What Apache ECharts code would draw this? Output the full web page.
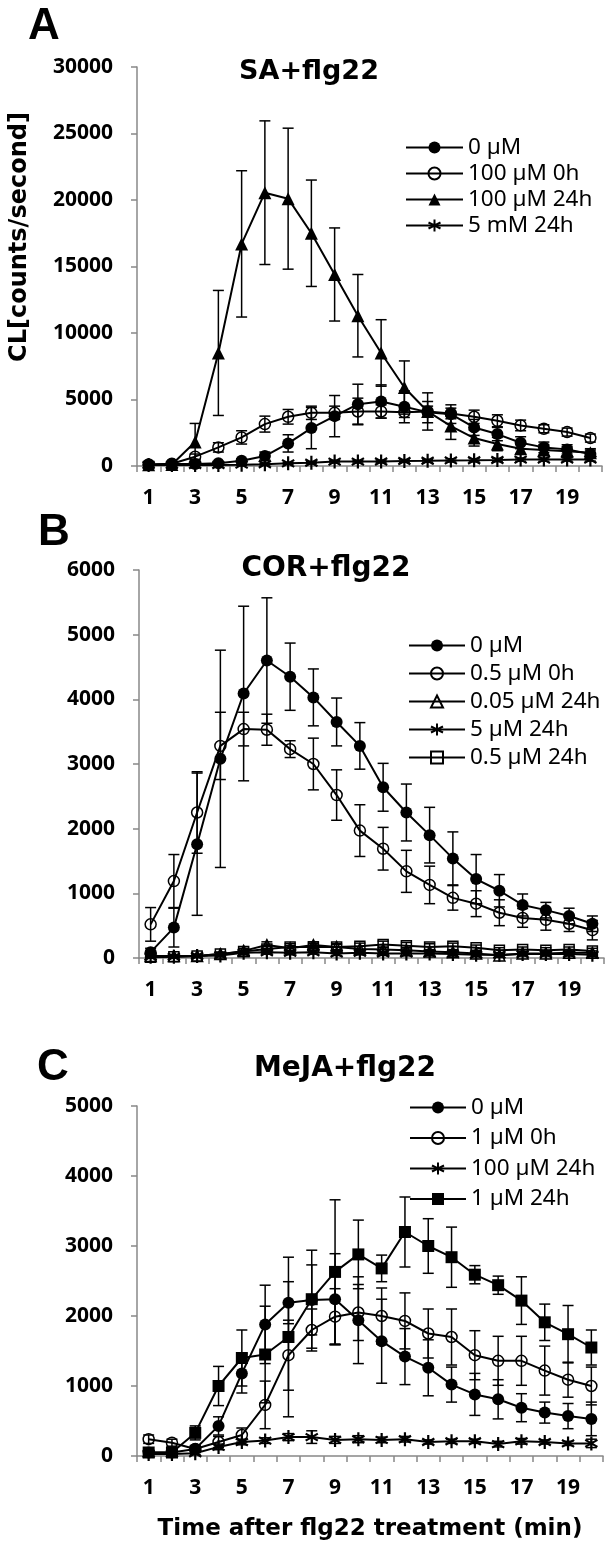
<!DOCTYPE html>
<html><head><meta charset="utf-8">
<script src="https://cdn.jsdelivr.net/npm/echarts@6/dist/echarts.min.js"></script>
<style>html,body{margin:0;padding:0;background:#fff}#c{width:610px;height:1550px}</style>
</head><body><div id="c"></div>
<script>
// ---------- data ----------
const minutes = ['1','2','3','4','5','6','7','8','9','10','11','12','13','14','15','16','17','18','19','20'];

// Panel A: SA+flg22
const aCtrl     = [100,150,150,200,400,750,1700,2850,3750,4650,4850,4450,4050,3900,2900,2400,1750,1400,1250,900];
const aCtrlErr  = [50,50,60,80,150,300,650,1550,1550,1500,1250,1200,800,700,600,500,450,400,350,300];
const a100_0h   = [120,170,700,1400,2150,3150,3700,4000,4000,4100,4100,4050,4100,3950,3700,3400,3050,2800,2550,2100];
const a100_0hErr= [50,60,200,350,500,600,550,500,500,1000,500,400,400,400,500,450,400,300,300,300];
const a100_24h  = [100,120,1800,8500,16700,20550,20100,17500,14400,11300,8500,5900,4100,3000,2100,1650,1300,1200,1100,1000];
const a100_24hErr=[50,60,1400,4700,5500,5400,5300,4000,3500,3100,2500,2000,1400,1000,600,500,400,400,350,300];
const a5mM      = [80,80,80,80,100,130,200,250,330,330,340,380,390,420,430,450,480,480,490,490];
const a5mMErr   = [30,30,30,40,50,60,80,80,100,100,100,100,100,120,120,120,120,120,120,120];

// Panel B: COR+flg22
const bCtrl     = [90,470,1760,3080,4090,4600,4350,4030,3650,3280,2640,2250,1900,1540,1220,1040,820,740,650,530];
const bCtrlErr  = [60,300,1100,1680,1350,970,520,440,370,360,370,440,430,410,380,250,170,120,120,120];
const b05_0h    = [520,1190,2250,3280,3540,3530,3230,3000,2520,1970,1690,1340,1130,930,840,700,620,590,530,430];
const b05_0hErr = [260,410,630,520,260,240,130,400,390,400,330,325,290,190,200,200,145,160,120,150];
const b005_24h  = [30,30,30,60,110,200,150,200,170,140,130,120,100,90,70,40,70,70,80,80];
const b005_24hErr=[20,20,20,30,40,50,40,50,40,40,40,40,30,30,30,30,30,30,30,30];
const b5_24h    = [20,20,30,40,80,90,80,90,70,80,70,70,70,60,50,50,60,60,60,50];
const b5_24hErr = [20,20,20,20,30,30,30,30,30,30,30,30,30,30,30,30,30,30,30,30];
const b05_24h   = [10,20,30,60,100,140,170,170,170,180,210,190,170,180,160,120,130,120,130,110];
const b05_24hErr= [20,20,20,30,40,40,50,50,50,50,50,50,50,50,40,40,40,40,40,40];

// Panel C: MeJA+flg22
const cCtrl     = [50,50,100,430,1180,1880,2190,2230,2240,1940,1640,1420,1260,1020,880,810,690,620,570,530];
const cCtrlErr  = [30,30,50,130,280,560,300,500,650,620,600,400,400,250,300,280,200,150,180,240];
const c1_0h     = [240,190,100,200,300,730,1440,1800,1990,2050,2000,1930,1750,1700,1440,1360,1360,1220,1090,1000];
const c1_0hErr  = [60,50,40,80,100,340,500,300,400,400,400,400,350,400,350,350,350,350,250,270];
const c100_24h  = [30,30,40,130,200,220,270,270,230,240,230,240,200,210,210,170,210,200,180,180];
const c100_24hErr=[20,20,20,40,40,40,50,90,50,50,40,40,30,30,30,40,40,30,30,60];
const c1_24h    = [50,50,330,1000,1400,1450,1700,2240,2630,2880,2680,3200,3000,2840,2590,2440,2220,1910,1740,1550];
const c1_24hErr = [30,30,100,280,400,690,1140,700,1030,490,190,500,390,430,130,130,340,260,410,250];

const yTicksA = {min:0, max:30000, interval:5000};
const yTicksB = {min:0, max:6000, interval:1000};
const yTicksC = {min:0, max:5000, interval:1000};

// ---------- styles ----------
const ASTER = 'path://M0,-1L0,1M-0.87,-0.5L0.87,0.5M-0.87,0.5L0.87,-0.5';
const SYM = {
  fcircle: {symbol:'circle', size:12, item:{color:'#000'}},
  ocircle: {symbol:'circle', size:11, item:{color:'rgba(0,0,0,0)', borderColor:'#000', borderWidth:1.5}},
  ftri:    {symbol:'triangle', size:13, item:{color:'#000'}},
  otri:    {symbol:'triangle', size:11, item:{color:'rgba(0,0,0,0)', borderColor:'#000', borderWidth:1.5}},
  aster:   {symbol:ASTER, size:14, item:{color:'#000', borderColor:'#000', borderWidth:2.2}},
  osq:     {symbol:'rect', size:10, item:{color:'rgba(0,0,0,0)', borderColor:'#000', borderWidth:1.5}},
  fsq:     {symbol:'rect', size:12, item:{color:'#000'}}
};

function lineSeries(id, label, g, vals, sk) {
  const s = SYM[sk];
  return {type:'line', name:id+'|'+label, xAxisIndex:g, yAxisIndex:g, data:vals,
    symbol:s.symbol, symbolSize:s.size, symbolKeepAspect:true, showAllSymbol:true,
    lineStyle:{color:'#000', width:2}, itemStyle:s.item, z:4, animation:false};
}
function errRender(params, api) {
  const x = api.value(0);
  const lo = api.coord([x, api.value(1)]);
  const hi = api.coord([x, api.value(2)]);
  const w = 5.5, st = {stroke:'#000', lineWidth:1.5};
  return {type:'group', children:[
    {type:'line', shape:{x1:hi[0],y1:hi[1],x2:lo[0],y2:lo[1]}, style:st},
    {type:'line', shape:{x1:hi[0]-w,y1:hi[1],x2:hi[0]+w,y2:hi[1]}, style:st},
    {type:'line', shape:{x1:lo[0]-w,y1:lo[1],x2:lo[0]+w,y2:lo[1]}, style:st}
  ]};
}
function errSeries(g, vals, errs) {
  return {type:'custom', xAxisIndex:g, yAxisIndex:g, renderItem:errRender, z:3, animation:false,
    encode:{x:0, y:[1,2]}, silent:true,
    data: vals.map((v,i)=>[i, Math.max(0, v-errs[i]), v+errs[i]])};
}

const panels = [
  {g:0, items:[
    ['A','0 µM', aCtrl, aCtrlErr, 'fcircle'],
    ['A','100 µM 0h', a100_0h, a100_0hErr, 'ocircle'],
    ['A','100 µM 24h', a100_24h, a100_24hErr, 'ftri'],
    ['A','5 mM 24h', a5mM, a5mMErr, 'aster']]},
  {g:1, items:[
    ['B','0 µM', bCtrl, bCtrlErr, 'fcircle'],
    ['B','0.5 µM 0h', b05_0h, b05_0hErr, 'ocircle'],
    ['B','0.05 µM 24h', b005_24h, b005_24hErr, 'otri'],
    ['B','5 µM 24h', b5_24h, b5_24hErr, 'aster'],
    ['B','0.5 µM 24h', b05_24h, b05_24hErr, 'osq']]},
  {g:2, items:[
    ['C','0 µM', cCtrl, cCtrlErr, 'fcircle'],
    ['C','1 µM 0h', c1_0h, c1_0hErr, 'ocircle'],
    ['C','100 µM 24h', c100_24h, c100_24hErr, 'aster'],
    ['C','1 µM 24h', c1_24h, c1_24hErr, 'fsq']]}
];

const series = [];
panels.forEach(p => {
  p.items.forEach(it => series.push(errSeries(p.g, it[2], it[3])));
  p.items.forEach(it => series.push(lineSeries(it[0], it[1], p.g, it[2], it[4])));
});

const grids = [
  {left:137, top:67, width:465, height:399},
  {left:139, top:570, width:465, height:388},
  {left:137, top:1106, width:466, height:350}
];
const AXC = '#888';
const tickFont = {fontFamily:'Noto Sans', fontWeight:'bold', fontSize:21, color:'#000'};
const plain = v => String(v);
const xAxes = grids.map((g,i)=>({
  type:'category', gridIndex:i, data:minutes, boundaryGap:true,
  axisLine:{lineStyle:{color:AXC, width:1.5}},
  axisTick:{show:true, interval:0, length:6, lineStyle:{color:AXC, width:1.5}},
  axisLabel:Object.assign({interval:1, margin:22}, tickFont),
  splitLine:{show:false},
  name: i===2 ? 'Time after flg22 treatment (min)' : '',
  nameLocation:'middle', nameGap:62,
  nameTextStyle:{fontFamily:'DejaVu Sans', fontWeight:'bold', fontSize:23, color:'#000'}
}));
const yAxes = [yTicksA, yTicksB, yTicksC].map((t,i)=>({
  type:'value', gridIndex:i, min:t.min, max:t.max, interval:t.interval,
  axisLine:{show:true, lineStyle:{color:AXC, width:1.5}},
  axisTick:{show:true, length:6, lineStyle:{color:AXC, width:1.5}},
  axisLabel:Object.assign({margin:24, formatter:plain}, tickFont),
  splitLine:{show:false}
}));

function legendFor(p, left, top, gap, w) {
  return {orient:'vertical', left:left, top:top, padding:0, itemGap:gap,
    itemWidth:w, itemHeight:15, selectedMode:false,
    data: p.items.map(it=>it[0]+'|'+it[1]),
    formatter: n => n.split('|')[1],
    textStyle:{fontFamily:'Noto Sans', fontSize:22.5, color:'#000', lineHeight:22, padding:[0,0,0,0]}};
}
const legends = [
  legendFor(panels[0], 405, 136, 3, 57),
  legendFor(panels[1], 408, 634, 5, 56),
  legendFor(panels[2], 409, 1096, 7.5, 56)
];

function txt(s, x, y, size, family, rot) {
  return {type:'text', x:x, y:y, rotation:rot||0, silent:true,
    style:{text:s, fill:'#000', font:'bold '+size+'px '+family, align:'center', verticalAlign:'middle'}};
}
const graphics = [
  txt('A', 44, 27, 44, '"Liberation Sans", Arial'),
  txt('B', 54, 533, 44, '"Liberation Sans", Arial'),
  txt('C', 53, 1068, 44, '"Liberation Sans", Arial'),
  txt('SA+flg22', 309, 72, 27, '"DejaVu Sans"'),
  txt('COR+flg22', 326, 569, 28, '"DejaVu Sans"'),
  txt('MeJA+flg22', 345, 1069, 28, '"DejaVu Sans"'),
  txt('CL[counts/second]', 20, 237, 24, '"DejaVu Sans"', Math.PI/2)
];

const chart = echarts.init(document.getElementById('c'), null, {renderer:'canvas'});
chart.setOption({
  backgroundColor:'#fff', animation:false,
  grid:grids, xAxis:xAxes, yAxis:yAxes, legend:legends,
  graphic:graphics, series:series
});
</script></body></html>
